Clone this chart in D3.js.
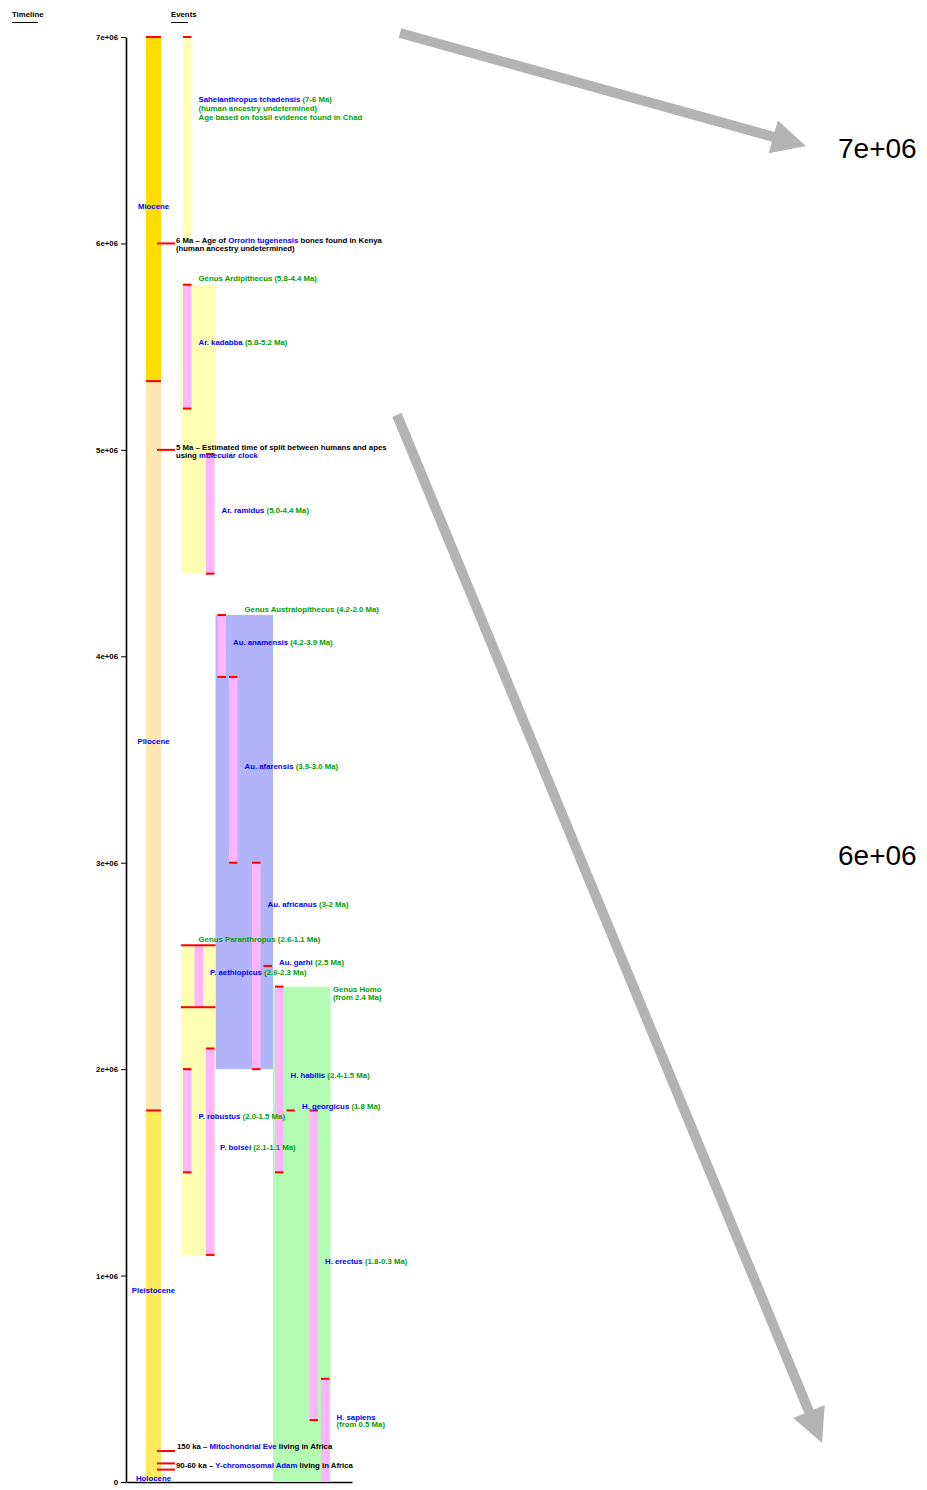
<!DOCTYPE html>
<meta charset="utf-8">
<script src="https://d3js.org/d3.v7.min.js"></script>
<style>
  body { margin: 0; background: #fff; }
  text { font-family: "Liberation Sans", Arial, sans-serif; }
</style>
<div id="page"></div>
<script>
  // ages are in years before present
  var majorTicks = [7e6, 6e6, 5e6, 4e6, 3e6, 2e6, 1e6, 0];
  var majorTickLabels = ["7e+06", "6e+06", "5e+06", "4e+06", "3e+06", "2e+06", "1e+06", "0"];

  var epochNames = ["Miocene", "Pliocene", "Pleistocene", "Holocene"];
  var epochFrom = [7e6, 5.333e6, 1.8e6, 11700];
  var epochTo = [5.333e6, 1.8e6, 11700, 0];

  var genusNames = ["Ardipithecus", "Australopithecus", "Paranthropus", "Homo"];
  var genusRanges = ["(5.8-4.4 Ma)", "(4.2-2.0 Ma)", "(2.6-1.1 Ma)", "(from 2.4 Ma)"];
  var genusFrom = [5.8e6, 4.2e6, 2.6e6, 2.4e6];
  var genusTo = [4.4e6, 2.0e6, 1.1e6, 0];
  var genusLaneFrom = [0, 3, 0, 8];
  var genusLaneTo = [2, 7, 2, 12];

  var speciesNames = ["Ar. kadabba", "Ar. ramidus", "Au. anamensis", "Au. afarensis", "Au. africanus",
    "P. aethiopicus", "P. robustus", "P. boisei", "H. habilis", "H. erectus", "H. sapiens"];
  var speciesRanges = ["(5.8-5.2 Ma)", "(5.0-4.4 Ma)", "(4.2-3.9 Ma)", "(3.9-3.0 Ma)", "(3-2 Ma)",
    "(2.6-2.3 Ma)", "(2.0-1.5 Ma)", "(2.1-1.1 Ma)", "(2.4-1.5 Ma)", "(1.8-0.3 Ma)", "(from 0.5 Ma)"];
  var speciesFrom = [5.8e6, 4.98e6, 4.2e6, 3.9e6, 3.0e6, 2.6e6, 2.0e6, 2.1e6, 2.4e6, 1.8e6, 0.5e6];
  var speciesTo = [5.2e6, 4.4e6, 3.9e6, 3.0e6, 2.0e6, 2.3e6, 1.5e6, 1.1e6, 1.5e6, 0.3e6, 0];
  var speciesLane = [0, 2, 3, 4, 6, 1, 0, 2, 8, 11, 12];

  var pointNames = ["Au. garhi", "H. georgicus"];
  var pointRanges = ["(2.5 Ma)", "(1.8 Ma)"];
  var pointAge = [2.5e6, 1.8e6];
  var pointLane = [7, 9];

  var sahelFrom = 7e6, sahelTo = 6e6;

  var eventAges = [6e6, 5e6, 150000, 90000, 60000];

  // ---- layout ----
  var svg = d3.select("#page").append("svg")
    .attr("width", 927).attr("height", 1490);

  var y = d3.scaleLinear().domain([7e6, 0]).range([37, 1482]);
  var lane = d3.scaleBand().domain(d3.range(13)).range([181, 330.5]).padding(0);
  var lw = lane.bandwidth();
  var colX = 146, colW = 15;
  var blue = "#0000ff", green = "#00a000", red = "#ff0000";
  var fs = "7.8px";

  var epochColor = ["#ffdd00", "#fde8b0", "#ffe95c", "#ffe95c"];
  var genusColor = ["#ffffb4", "#b2b4f8", "#ffffb4", "#b4fcb4"];
  var pink = "#ffb4ff";

  // headers
  [["Timeline", 12, 38], ["Events", 171, 188]].forEach(function (h) {
    svg.append("text").attr("x", h[1]).attr("y", 17).attr("font-size", fs)
      .attr("font-weight", "bold").text(h[0]);
    svg.append("line").attr("x1", h[1]).attr("x2", h[2]).attr("y1", 22.5).attr("y2", 22.5)
      .attr("stroke", "#000").attr("stroke-width", 1);
  });

  // axes
  var gAxis = svg.append("g").attr("transform", "translate(126,0)");
  gAxis.call(d3.axisLeft(y).tickValues(d3.range(0, 7e6 + 1, 250000)).tickFormat("").tickSize(3).tickSizeOuter(0));
  gAxis.call(d3.axisLeft(y).tickValues(majorTicks).tickFormat(function (d, i) { return majorTickLabels[i]; })
    .tickSize(5).tickSizeOuter(0).tickPadding(3));
  gAxis.selectAll("text").attr("font-size", fs).attr("font-weight", "bold")
    .attr("font-family", "Liberation Sans, Arial, sans-serif");
  gAxis.selectAll("path").attr("stroke-width", 1.6);

  var xb = d3.scaleLinear().domain([0, 1]).range([126, 352]);
  svg.append("g").attr("transform", "translate(0,1482)")
    .call(d3.axisBottom(xb).tickValues([]).tickSizeOuter(0))
    .selectAll("path").attr("stroke-width", 1.6);

  // epochs
  epochNames.forEach(function (n, i) {
    svg.append("rect").attr("x", colX).attr("width", colW)
      .attr("y", y(epochFrom[i])).attr("height", y(epochTo[i]) - y(epochFrom[i]))
      .attr("fill", epochColor[i]);
  });
  [epochFrom[0], epochFrom[1], epochFrom[2]].forEach(function (a) {
    svg.append("rect").attr("x", colX).attr("width", colW).attr("y", y(a) - 1).attr("height", 2).attr("fill", red);
  });
  var epochLabelAge = [6.18e6, 3.59e6, 0.93e6, 0.02e6];
  epochNames.forEach(function (n, i) {
    svg.append("text").attr("x", colX + colW / 2).attr("y", y(epochLabelAge[i])).attr("dy", "0.35em")
      .attr("text-anchor", "middle").attr("font-size", fs).attr("font-weight", "bold").attr("fill", blue).text(n);
  });

  // genus boxes
  genusNames.forEach(function (n, i) {
    var x0 = lane(genusLaneFrom[i]), x1 = lane(genusLaneTo[i]) + lw;
    svg.append("rect").attr("x", x0).attr("width", x1 - x0)
      .attr("y", y(genusFrom[i])).attr("height", y(genusTo[i]) - y(genusFrom[i]))
      .attr("fill", genusColor[i]);
  });

  // Sahelanthropus bar
  svg.append("rect").attr("x", lane(0) + 2).attr("width", lw - 3)
    .attr("y", y(sahelFrom)).attr("height", y(sahelTo) - y(sahelFrom)).attr("fill", "#ffffb4");
  svg.append("rect").attr("x", lane(0) + 2).attr("width", lw - 3).attr("y", y(sahelFrom) - 1).attr("height", 2).attr("fill", red);

  // species bars
  speciesNames.forEach(function (n, i) {
    var bx = lane(speciesLane[i]) + 2;
    svg.append("rect").attr("x", bx).attr("width", lw - 3)
      .attr("y", y(speciesFrom[i])).attr("height", y(speciesTo[i]) - y(speciesFrom[i])).attr("fill", pink);
  });
  speciesNames.forEach(function (n, i) {
    var bx = lane(speciesLane[i]) + 2, bw = lw - 3;
    if (n === "P. aethiopicus") { bx = lane(0); bw = 3 * lw; }
    [speciesFrom[i], speciesTo[i]].forEach(function (a) {
      if (a === 0) return;
      svg.append("rect").attr("x", bx).attr("width", bw).attr("y", y(a) - 1).attr("height", 2).attr("fill", red);
    });
  });
  pointNames.forEach(function (n, i) {
    svg.append("rect").attr("x", lane(pointLane[i]) + 2).attr("width", lw - 3)
      .attr("y", y(pointAge[i]) - 1).attr("height", 2).attr("fill", red);
  });

  // event ticks
  eventAges.forEach(function (a) {
    svg.append("rect").attr("x", 157).attr("width", 18).attr("y", y(a) - 1).attr("height", 2).attr("fill", red);
  });

  // labels
  function label(x, yy, parts) {
    var t = svg.append("text").attr("x", x).attr("y", yy).attr("dy", "0.35em")
      .attr("font-size", fs).attr("font-weight", "bold");
    parts.forEach(function (p) { t.append("tspan").attr("fill", p[1]).text(p[0]); });
  }
  function laneRight(l) { return lane(l) + lw + 6; }

  var speciesLabelAge = { "Au. africanus": 2.8e6, "H. sapiens": 0.315e6 };
  speciesNames.forEach(function (n, i) {
    if (n === "H. sapiens") {
      label(laneRight(12), y(speciesLabelAge[n]), [[n, blue]]);
      label(laneRight(12), y(speciesLabelAge[n]) + 7.5, [[speciesRanges[i], green]]);
      return;
    }
    var yy = speciesLabelAge[n] !== undefined ? y(speciesLabelAge[n])
      : (y(speciesFrom[i]) + y(speciesTo[i])) / 2 - 4;
    label(laneRight(speciesLane[i]) - (n === "P. boisei" ? 1.5 : 0), yy, [[n + " ", blue], [speciesRanges[i], green]]);
  });
  pointNames.forEach(function (n, i) {
    label(laneRight(pointLane[i]), y(pointAge[i]) - 4, [[n + " ", blue], [pointRanges[i], green]]);
  });

  var genusLabelLane = [0, 4, 0, 12];
  genusNames.forEach(function (n, i) {
    if (n === "Homo") {
      label(lane(12) + lw + 2.5, y(genusFrom[i]) + 3, [["Genus Homo", green]]);
      label(lane(12) + lw + 2.5, y(genusFrom[i]) + 11, [[genusRanges[i], green]]);
      return;
    }
    label(laneRight(genusLabelLane[i]), y(genusFrom[i]) - 6, [["Genus " + n + " " + genusRanges[i], green]]);
  });

  // Sahelanthropus text
  var sx = laneRight(0), sy = y(6.7e6);
  label(sx, sy, [["Sahelanthropus tchadensis ", blue], ["(7-6 Ma)", green]]);
  label(sx, sy + 9, [["(human ancestry undetermined)", green]]);
  label(sx, sy + 18, [["Age based on fossil evidence found in Chad", green]]);

  // event texts
  label(176, y(eventAges[0]) - 3, [["6 Ma – Age of ", "#000"], ["Orrorin tugenensis", blue], [" bones found in Kenya", "#000"]]);
  label(176, y(eventAges[0]) + 5, [["(human ancestry undetermined)", "#000"]]);
  label(176, y(eventAges[1]) - 3, [["5 Ma – Estimated time of split between humans and apes", "#000"]]);
  label(176, y(eventAges[1]) + 5, [["using ", "#000"], ["molecular clock", blue]]);
  label(177, y(eventAges[2]) - 5, [["150 ka – ", "#000"], ["Mitochondrial Eve", blue], [" living in Africa", "#000"]]);
  label(176, y(eventAges[3]) + 2, [["90-60 ka – ", "#000"], ["Y-chromosomal Adam", blue], [" living in Africa", "#000"]]);

  // annotation arrows
  var arrows = [
    { x1: 400, y1: 33, x2: 806, y2: 146, text: "7e+06", tx: 838, ty: 158 },
    { x1: 397, y1: 415, x2: 822, y2: 1443, text: "6e+06", tx: 838, ty: 865 }
  ];
  arrows.forEach(function (a) {
    var dx = a.x2 - a.x1, dy = a.y2 - a.y1, L = Math.sqrt(dx * dx + dy * dy);
    var ux = dx / L, uy = dy / L, hl = 34, hw = 17;
    var bx = a.x2 - ux * hl, by = a.y2 - uy * hl;
    svg.append("line").attr("x1", a.x1).attr("y1", a.y1).attr("x2", bx + ux * 2).attr("y2", by + uy * 2)
      .attr("stroke", "#b3b3b3").attr("stroke-width", 10);
    svg.append("polygon").attr("fill", "#b3b3b3")
      .attr("points", [[a.x2, a.y2], [bx - uy * hw, by + ux * hw], [bx + uy * hw, by - ux * hw]].join(" "));
    svg.append("text").attr("x", a.tx).attr("y", a.ty).attr("font-size", "28px").attr("fill", "#000").text(a.text);
  });
</script>
